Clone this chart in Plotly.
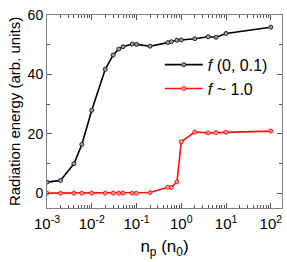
import plotly.graph_objects as go

x_black = [0.001, 0.002, 0.004, 0.006, 0.01, 0.02, 0.03, 0.04, 0.05, 0.08, 0.1, 0.2,
           0.5, 0.6, 0.8, 1, 2, 4, 6, 10, 100]
y_black = [3.7, 4.3, 9.9, 16.4, 27.9, 41.7, 46.5, 48.5, 49.3, 50.2, 50.1, 49.5,
           50.7, 51.0, 51.5, 51.6, 52.0, 52.7, 52.5, 53.8, 55.9]
x_red = [0.001, 0.002, 0.004, 0.006, 0.01, 0.02, 0.03, 0.04, 0.05, 0.08, 0.1, 0.2,
         0.5, 0.6, 0.8, 1, 2, 4, 6, 10, 100]
y_red = [0.0, 0.0, 0.0, 0.0, 0.0, 0.0, 0.0, 0.0, 0.0, 0.0, 0.0, 0.2,
         2.0, 1.9, 3.8, 17.3, 20.6, 20.3, 20.4, 20.5, 20.9]
x_tickvals = [1e-3, 1e-2, 1e-1, 1, 10, 100]
x_ticktext = ["10<sup>-3</sup>", "10<sup>-2</sup>", "10<sup>-1</sup>",
              "10<sup>0</sup>", "10<sup>1</sup>", "10<sup>2</sup>"]
y_tickvals = [0, 20, 40, 60]
series_names = ["<i>f</i> (0, 0.1)", "<i>f</i> ~ 1.0"]

minor_x = [m * 10 ** e for e in range(-3, 3) for m in range(2, 10)]

fig = go.Figure()
fig.add_trace(go.Scatter(
    x=x_black, y=y_black, mode="lines+markers", name=series_names[0],
    line=dict(color="black", width=1.6),
    marker=dict(symbol="circle", size=4, color="#a0a0a0",
                line=dict(color="#222", width=1))))
fig.add_trace(go.Scatter(
    x=x_red, y=y_red, mode="lines+markers", name=series_names[1],
    line=dict(color="#ff1010", width=1.6),
    marker=dict(symbol="circle", size=4, color="#ff9a9a",
                line=dict(color="#ff1010", width=1))))

axis_common = dict(showline=True, linecolor="#808080", linewidth=1, mirror="allticks",
                   ticks="inside", ticklen=5, tickcolor="#555", showgrid=False,
                   zeroline=False, automargin=False)

fig.update_xaxes(type="log", range=[-3, 2.25], tickvals=x_tickvals, ticktext=x_ticktext,
                 tickfont=dict(size=15, color="black"), ticklabelstandoff=2,
                 minor=dict(ticks="inside", ticklen=3, tickvals=minor_x, tickcolor="#555"),
                 title=dict(text="n<sub>p</sub> (n<sub>0</sub>)", font=dict(size=17, color="black"),
                            standoff=9),
                 **axis_common)
fig.update_yaxes(range=[-5, 60], tickvals=y_tickvals,
                 tickfont=dict(size=14, color="black"),
                 minor=dict(ticks="inside", ticklen=3, tickvals=[10, 30, 50], tickcolor="#555"),
                 title=dict(text="Radiation energy (arb. units)", font=dict(size=15, color="black"),
                            standoff=3),
                 **axis_common)

fig.update_layout(
    width=287, height=262,
    margin=dict(l=47, r=5, t=15, b=54),
    paper_bgcolor="white", plot_bgcolor="white",
    font=dict(family="Liberation Sans, Arial, sans-serif", color="black"),
    showlegend=True,
    legend=dict(x=0.48, y=0.68, xanchor="left", yanchor="middle", bgcolor="rgba(0,0,0,0)",
                font=dict(size=16), itemwidth=38, tracegroupgap=0),
)

fig.write_html("out.html", config={"displayModeBar": False},
               post_script="document.body.style.margin='0';")
